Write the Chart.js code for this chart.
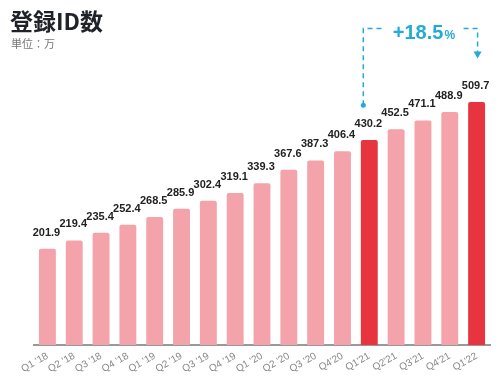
<!DOCTYPE html>
<html>
<head>
<meta charset="utf-8">
<script src="https://cdn.jsdelivr.net/npm/chart.js@4/dist/chart.umd.min.js"></script>
<style>
  body { margin: 0; background: #fff; }
  #wrap { position: relative; width: 500px; height: 388px; }
  #title { position: absolute; left: 10px; top: 3px; font: bold 23px "Noto Sans CJK JP", sans-serif; color: #1f2329; }
  #unit { position: absolute; left: 11px; top: 35px; font: 11px "Noto Sans CJK JP", sans-serif; color: #777; }
</style>
</head>
<body>
<div id="wrap">
  <canvas id="idChart" width="500" height="388"></canvas>
  <div id="title">登録ID数</div>
  <div id="unit">単位：万</div>
</div>
<script>
const quarters = [
  "Q1 '18", "Q2 '18", "Q3 '18", "Q4 '18",
  "Q1 '19", "Q2 '19", "Q3 '19", "Q4 '19",
  "Q1 '20", "Q2 '20", "Q3 '20", "Q4'20",
  "Q1'21", "Q2'21", "Q3'21", "Q4'21", "Q1'22",
];
const registeredIds = [
  201.9, 219.4, 235.4, 252.4, 268.5, 285.9, 302.4, 319.1,
  339.3, 367.6, 387.3, 406.4, 430.2, 452.5, 471.1, 488.9, 509.7,
];
const highlighted = ["Q1'21", "Q1'22"];
const growthLabel = "+18.5";

const pink = "#f4a3ab";
const red = "#e8343f";
const cyan = "#23aad6";

const valueLabels = {
  id: "valueLabels",
  afterDatasetsDraw(chart) {
    const ctx = chart.ctx;
    const meta = chart.getDatasetMeta(0);
    ctx.save();
    ctx.font = "bold 11px 'Liberation Sans', Arial, sans-serif";
    ctx.fillStyle = "#222";
    ctx.textAlign = "center";
    ctx.textBaseline = "alphabetic";
    meta.data.forEach((bar, i) => {
      ctx.fillText(registeredIds[i].toFixed(1), bar.x - 1, bar.y - 13);
    });
    ctx.restore();
  },
};

const growthArrow = {
  id: "growthArrow",
  afterDraw(chart) {
    const ctx = chart.ctx;
    const meta = chart.getDatasetMeta(0);
    const y = chart.scales.y;
    const from = meta.data[quarters.indexOf("Q1'21")];
    const to = meta.data[quarters.indexOf("Q1'22")];
    const x1 = from.x - 6;
    const x2 = to.x + 1;
    const yTop = y.getPixelForValue(664);
    const yDot = y.getPixelForValue(503);
    const yTip = y.getPixelForValue(601);
    const midX = (x1 + x2) / 2 + 3;

    ctx.save();
    ctx.strokeStyle = cyan;
    ctx.fillStyle = cyan;
    ctx.lineWidth = 1.5;
    ctx.setLineDash([5, 4]);
    ctx.beginPath();
    ctx.moveTo(x1, yDot);
    ctx.lineTo(x1, yTop);
    ctx.lineTo(x1 + 20, yTop);
    ctx.moveTo(x2 - 14, yTop);
    ctx.lineTo(x2, yTop);
    ctx.lineTo(x2, yTip - 6);
    ctx.stroke();
    ctx.setLineDash([]);

    ctx.beginPath();
    ctx.arc(x1, yDot, 2.5, 0, Math.PI * 2);
    ctx.fill();

    ctx.beginPath();
    ctx.moveTo(x2 - 4, yTip - 7);
    ctx.lineTo(x2 + 4, yTip - 7);
    ctx.lineTo(x2, yTip);
    ctx.closePath();
    ctx.fill();

    ctx.font = "bold 20px 'Liberation Sans', Arial, sans-serif";
    const w1 = ctx.measureText(growthLabel).width;
    ctx.font = "bold 12px 'Liberation Sans', Arial, sans-serif";
    const w2 = ctx.measureText("%").width;
    const start = midX - (w1 + w2) / 2;
    ctx.textBaseline = "alphabetic";
    ctx.textAlign = "left";
    ctx.font = "bold 20px 'Liberation Sans', Arial, sans-serif";
    ctx.fillText(growthLabel, start, yTop + 11);
    ctx.font = "bold 12px 'Liberation Sans', Arial, sans-serif";
    ctx.fillText("%", start + w1 + 1, yTop + 11);
    ctx.restore();
  },
};

new Chart(document.getElementById("idChart").getContext("2d"), {
  type: "bar",
  data: {
    labels: quarters,
    datasets: [
      {
        data: registeredIds,
        backgroundColor: quarters.map((q) => (highlighted.includes(q) ? red : pink)),
        borderRadius: 2,
        borderSkipped: "bottom",
        categoryPercentage: 1,
        barPercentage: 0.63,
      },
    ],
  },
  options: {
    responsive: false,
    animation: false,
    layout: { padding: { left: 34, right: 10, top: 59, bottom: 8 } },
    plugins: {
      legend: { display: false },
      tooltip: { enabled: false },
    },
    scales: {
      x: {
        grid: { display: false, drawTicks: false },
        border: { color: "#999", width: 2 },
        ticks: {
          color: "#888",
          font: { size: 10, family: "'Liberation Sans', Arial, sans-serif" },
          autoSkip: false,
          maxRotation: 30,
          minRotation: 30,
          padding: 5,
        },
      },
      y: {
        display: false,
        min: 0,
        max: 600,
      },
    },
  },
  plugins: [valueLabels, growthArrow],
});
</script>
</body>
</html>
